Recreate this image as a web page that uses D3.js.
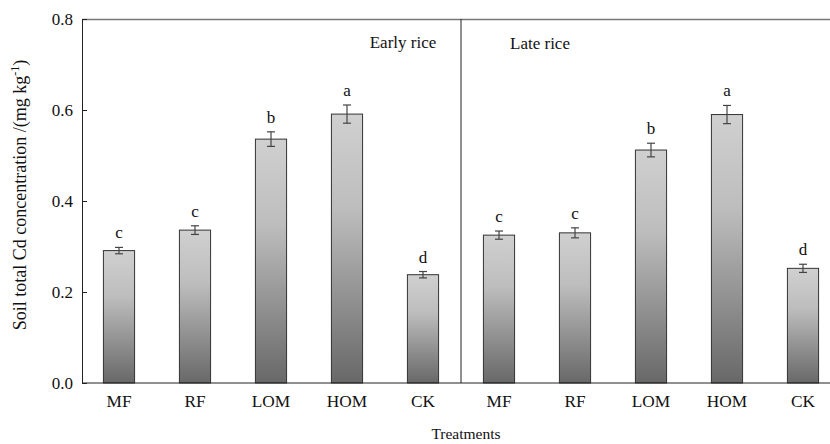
<!DOCTYPE html>
<html><head><meta charset="utf-8">
<script src="https://cdn.jsdelivr.net/npm/d3@7"></script>
<style>body{margin:0;background:#fff}svg{display:block}
svg text{font-family:"Liberation Serif","Times New Roman",Times,"DejaVu Serif",serif !important;}</style>
</head><body><svg id="c" width="830" height="444"></svg>
<script>
const treatments = ["MF","RF","LOM","HOM","CK"];
const seasons = ["Early rice","Late rice"];
const earlyValues = [0.291, 0.336, 0.536, 0.591, 0.238];
const earlyErrors = [0.007, 0.0095, 0.016, 0.020, 0.007];
const earlyLetters = ["c","c","b","a","d"];
const lateValues = [0.325, 0.330, 0.512, 0.590, 0.252];
const lateErrors = [0.009, 0.011, 0.015, 0.020, 0.009];
const lateLetters = ["c","c","b","a","d"];
const yTicks = [0.0, 0.2, 0.4, 0.6, 0.8];

const data = [];
treatments.forEach((t,i)=>data.push({key:"E"+i, t, v:earlyValues[i], e:earlyErrors[i], l:earlyLetters[i]}));
treatments.forEach((t,i)=>data.push({key:"L"+i, t, v:lateValues[i], e:lateErrors[i], l:lateLetters[i]}));

const svg = d3.select("#c");
const L = 82, T = 19, B = 383;
const x = d3.scaleBand().domain(data.map(d=>d.key)).range([81, 841]).paddingInner(0.59).paddingOuter(0.295);
const y = d3.scaleLinear().domain([0,0.8]).range([B, T]);

const defs = svg.append("defs");
const g = defs.append("linearGradient").attr("id","bg").attr("x1",0).attr("y1",0).attr("x2",0).attr("y2",1);
g.append("stop").attr("offset","0%").attr("stop-color","#d0d0d0");
g.append("stop").attr("offset","35%").attr("stop-color","#bdbdbd");
g.append("stop").attr("offset","100%").attr("stop-color","#686868");

// top border
svg.append("line").attr("x1",L).attr("x2",830).attr("y1",T+0.5).attr("y2",T+0.5).attr("stroke","#777").attr("stroke-width",1.5);
// divider
const divX = (x("E4")+x.bandwidth()/2 + x("L0")+x.bandwidth()/2)/2;
svg.append("line").attr("x1",divX).attr("x2",divX).attr("y1",T).attr("y2",B).attr("stroke","#222").attr("stroke-width",1);

// bars
svg.append("g").selectAll("rect").data(data).join("rect")
  .attr("x",d=>x(d.key)).attr("width",x.bandwidth())
  .attr("y",d=>y(d.v)).attr("height",d=>B-y(d.v))
  .attr("fill","url(#bg)").attr("stroke","#333").attr("stroke-width",1);

// error bars
const eg = svg.append("g").attr("stroke","#444").attr("stroke-width",1.2);
data.forEach(d=>{
  const cx = x(d.key)+x.bandwidth()/2;
  eg.append("line").attr("x1",cx).attr("x2",cx).attr("y1",y(d.v+d.e)).attr("y2",y(d.v-d.e));
  eg.append("line").attr("x1",cx-4).attr("x2",cx+4).attr("y1",y(d.v+d.e)).attr("y2",y(d.v+d.e));
  eg.append("line").attr("x1",cx-4).attr("x2",cx+4).attr("y1",y(d.v-d.e)).attr("y2",y(d.v-d.e));
});

// letters
svg.append("g").selectAll("text").data(data).join("text")
  .attr("x",d=>x(d.key)+x.bandwidth()/2).attr("y",d=>y(d.v+d.e)-9)
  .attr("text-anchor","middle").attr("font-size",17).attr("fill","#111")
  .text(d=>d.l);

// y axis
const ya = svg.append("g").attr("transform",`translate(${L},0)`)
  .call(d3.axisLeft(y).tickValues(yTicks).tickFormat(d3.format(".1f")).tickSizeInner(-5).tickSizeOuter(0).tickPadding(9));
ya.select(".domain").attr("stroke","#222");
ya.selectAll(".tick line").attr("stroke","#222");
ya.selectAll("text").attr("font-size",17).attr("fill","#111");

// x axis
const xa = svg.append("g").attr("transform",`translate(0,${B})`)
  .call(d3.axisBottom(x).tickFormat(k=>data.find(d=>d.key===k).t).tickSize(0).tickPadding(12));
xa.select(".domain").remove();
svg.append("line").attr("x1",L).attr("x2",830).attr("y1",B).attr("y2",B).attr("stroke","#222").attr("stroke-width",1.2);
xa.selectAll("text").attr("font-size",17.3).attr("fill","#111");

// season labels
svg.append("text").attr("x",403).attr("y",48).attr("text-anchor","middle").attr("font-size",17).attr("fill","#111").text(seasons[0]);
svg.append("text").attr("x",540).attr("y",49).attr("text-anchor","middle").attr("font-size",17).attr("fill","#111").text(seasons[1]);

// axis titles
svg.append("text").attr("x",466).attr("y",439).attr("text-anchor","middle").attr("font-size",15.5).attr("fill","#111").text("Treatments");
const yl = svg.append("text").attr("transform","translate(26,195) rotate(-90)").attr("text-anchor","middle")
  .attr("font-size",18).attr("fill","#111");
yl.append("tspan").text("Soil total Cd concentration /(mg kg");
yl.append("tspan").attr("font-size",12).attr("dy",-7).text("-1");
yl.append("tspan").attr("dy",7).text(")");
</script></body></html>
